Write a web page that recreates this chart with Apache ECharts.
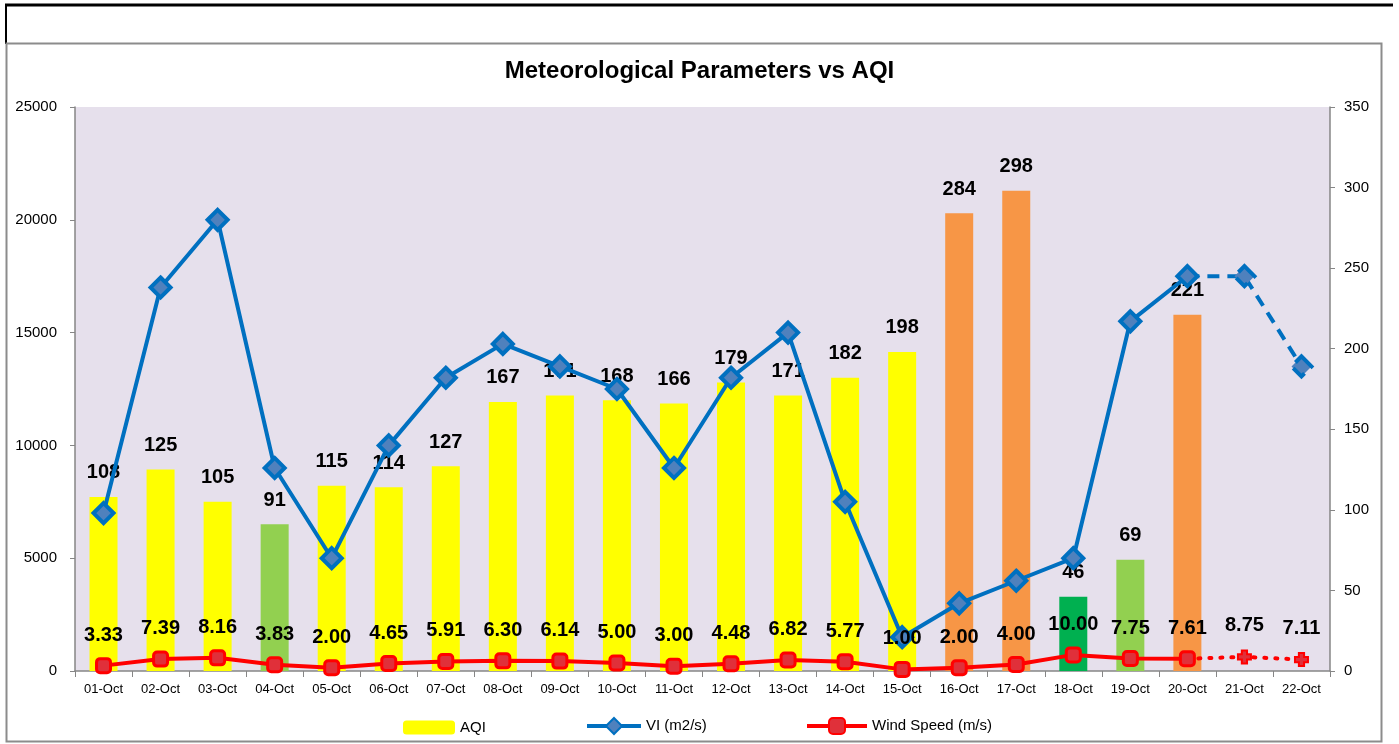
<!DOCTYPE html>
<html>
<head>
<meta charset="utf-8">
<script src="https://cdn.jsdelivr.net/npm/echarts@6/dist/echarts.min.js"></script>
<style>
  html, body { margin: 0; padding: 0; background: #fff; }
  #chart { width: 1399px; height: 744px; }
</style>
</head>
<body>
<div id="chart"></div>
<script>
// data
var days = ['01-Oct','02-Oct','03-Oct','04-Oct','05-Oct','06-Oct','07-Oct','08-Oct','09-Oct','10-Oct','11-Oct',
            '12-Oct','13-Oct','14-Oct','15-Oct','16-Oct','17-Oct','18-Oct','19-Oct','20-Oct','21-Oct','22-Oct'];
var aqi = [108,125,105,91,115,114,127,167,171,168,166,179,171,182,198,284,298,46,69,221,null,null];
var aqiColors = ['#FFFF00','#FFFF00','#FFFF00','#92D050','#FFFF00','#FFFF00','#FFFF00','#FFFF00','#FFFF00','#FFFF00','#FFFF00',
                 '#FFFF00','#FFFF00','#FFFF00','#FFFF00','#F79646','#F79646','#00B050','#92D050','#F79646','#FFFF00','#FFFF00'];
var vi = [7000,17000,20000,9000,5000,10000,13000,14500,13500,12500,9000,13000,15000,7500,1500,3000,4000,5000,15500,17500,17500,13500];
var wind = [3.33,7.39,8.16,3.83,2.00,4.65,5.91,6.30,6.14,5.00,3.00,4.48,6.82,5.77,1.00,2.00,4.00,10.00,7.75,7.61,8.75,7.11];
var lastMeasured = 19; // 20-Oct, after that forecast (dashed)

var myChart = echarts.init(document.getElementById('chart'));

var axisGray = '#868686';
var lblFont = 'Liberation Sans, Arial, sans-serif';
var plusPath = 'path://M3,0 H7 V3 H10 V7 H7 V10 H3 V7 H0 V3 H3 Z';

// split the lines into measured part and forecast part
var viSolid = vi.map(function(v, i){ return i <= lastMeasured ? v : null; });
var viDash = vi.map(function(v, i){
  if (i < lastMeasured) return null;
  if (i == lastMeasured) return { value: v, symbol: 'none' };
  return v;
});
var windSolid = wind.map(function(v, i){ return i <= lastMeasured ? v : null; });
var windDot = wind.map(function(v, i){
  if (i < lastMeasured) return null;
  if (i == lastMeasured) return { value: v, symbol: 'none', label: { show: false } };
  return v;
});

function fmt2(p){
  var v = p.value;
  if (v && typeof v == 'object') v = v.value;
  return v == null ? '' : Number(v).toFixed(2);
}

var option = {
  animation: false,
  textStyle: { fontFamily: lblFont },
  graphic: [
    { type: 'line', shape: { x1: 5, y1: 5, x2: 1393, y2: 5 }, style: { stroke: '#000', lineWidth: 3 } },
    { type: 'line', shape: { x1: 6, y1: 5, x2: 6, y2: 44 }, style: { stroke: '#000', lineWidth: 2 } },
    { type: 'rect', shape: { x: 6.5, y: 43.5, width: 1375, height: 698 }, style: { fill: 'none', stroke: '#8C8C8C', lineWidth: 2 } }
  ],
  title: {
    text: 'Meteorological Parameters vs AQI',
    left: 'center',
    top: 54,
    textStyle: { fontSize: 24, fontWeight: 'bold', color: '#000', fontFamily: lblFont }
  },
  legend: [
    { data: ['AQI'], left: 398, top: 715, itemWidth: 52, itemHeight: 14, itemGap: 6,
      textStyle: { fontSize: 15, color: '#000' } },
    { data: ['VI (m2/s)'], left: 580, top: 712, itemWidth: 54, itemHeight: 20,
      lineStyle: { width: 4 },
      textStyle: { fontSize: 15, color: '#000' } },
    { data: ['Wind Speed (m/s)'], left: 800, top: 712, itemWidth: 60, itemHeight: 20,
      lineStyle: { width: 4 },
      textStyle: { fontSize: 15, color: '#000' } }
  ],
  grid: {
    left: 75, right: 69, top: 107, bottom: 73,
    show: true, backgroundColor: '#E6E0EC', borderWidth: 0
  },
  xAxis: {
    type: 'category',
    data: days,
    boundaryGap: true,
    axisLine: { lineStyle: { color: axisGray, width: 1.5 } },
    axisTick: { show: true, length: 6, lineStyle: { color: axisGray } },
    axisLabel: { fontSize: 13, color: '#000', margin: 12, interval: 0 }
  },
  yAxis: [
    {
      type: 'value', min: 0, max: 25000, interval: 5000,
      axisLine: { show: true, lineStyle: { color: axisGray, width: 1.5 } },
      axisTick: { show: true, length: 5, lineStyle: { color: axisGray } },
      axisLabel: { fontSize: 15, color: '#000', margin: 18, formatter: function(v){ return String(v); } },
      splitLine: { show: false }
    },
    {
      type: 'value', min: 0, max: 350, interval: 50,
      axisLine: { show: true, lineStyle: { color: axisGray, width: 1.5 } },
      axisTick: { show: true, length: 5, lineStyle: { color: axisGray } },
      axisLabel: { fontSize: 15, color: '#000', margin: 14 },
      splitLine: { show: false }
    }
  ],
  series: [
    {
      name: 'AQI',
      type: 'bar',
      yAxisIndex: 1,
      barWidth: 28,
      itemStyle: { color: '#FFFF00' },
      data: aqi.map(function(v, i){ return { value: v, itemStyle: { color: aqiColors[i] } }; }),
      label: { show: true, position: 'top', distance: 14, fontSize: 20, fontWeight: 'bold', color: '#000' },
      z: 2
    },
    {
      name: 'VI (m2/s)',
      type: 'line',
      yAxisIndex: 0,
      data: viSolid,
      symbol: 'diamond',
      symbolSize: 20,
      lineStyle: { color: '#0070C0', width: 4 },
      itemStyle: { color: '#4F81BD', borderColor: '#0070C0', borderWidth: 4 },
      z: 4
    },
    {
      name: 'VI forecast',
      type: 'line',
      yAxisIndex: 0,
      data: viDash,
      symbol: 'diamond',
      symbolSize: 20,
      lineStyle: { color: '#0070C0', width: 4, type: [12, 8] },
      itemStyle: { color: '#4F81BD', borderColor: '#0070C0', borderWidth: 4, borderType: 'dashed' },
      z: 4
    },
    {
      name: 'Wind Speed (m/s)',
      type: 'line',
      yAxisIndex: 1,
      data: windSolid,
      symbol: 'roundRect',
      symbolSize: 14,
      lineStyle: { color: '#FF0000', width: 4 },
      itemStyle: { color: '#E0303A', borderColor: '#FF0000', borderWidth: 3 },
      label: { show: true, position: 'top', distance: 12, fontSize: 20, fontWeight: 'bold', color: '#000', formatter: fmt2 },
      z: 5
    },
    {
      name: 'Wind forecast',
      type: 'line',
      yAxisIndex: 1,
      data: windDot,
      symbol: plusPath,
      symbolSize: 13,
      lineStyle: { color: '#FF0000', width: 4, type: [2, 9], cap: 'round' },
      itemStyle: { color: '#E0303A', borderColor: '#FF0000', borderWidth: 2 },
      label: { show: true, position: 'top', distance: 14, fontSize: 20, fontWeight: 'bold', color: '#000', formatter: fmt2 },
      z: 5
    }
  ]
};

myChart.setOption(option);
</script>
</body>
</html>
